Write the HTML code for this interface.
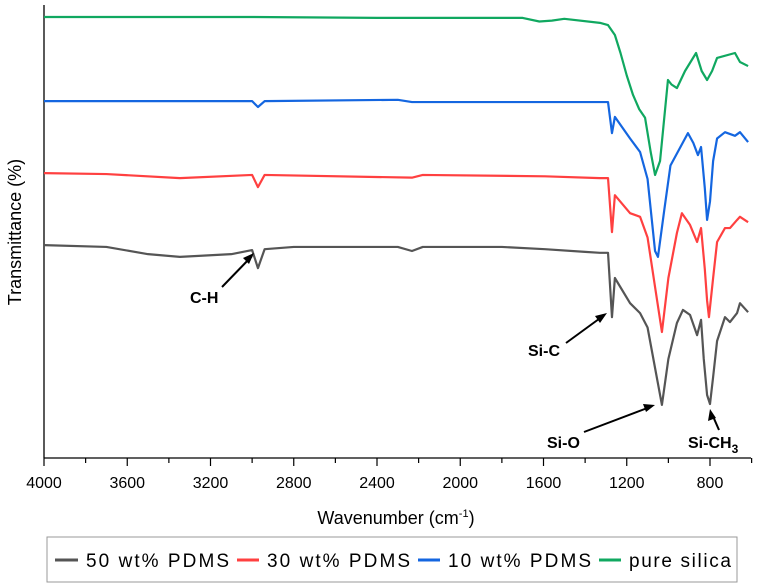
<!DOCTYPE html>
<html><head><meta charset="utf-8"><style>
body{margin:0;background:#fff;}
svg{display:block;font-family:"Liberation Sans",sans-serif;}
</style></head><body>
<svg id="chart" width="765" height="587">
<g id="axes"></g>
<g id="series"></g>
<g id="ann">
<text x="190" y="303" font-size="16" font-weight="bold">C-H</text>
<line x1="222" y1="287" x2="252" y2="256" stroke="#000" stroke-width="2"/>
<polygon points="254,253 243,258 249,264" fill="#000"/>
<text x="528" y="356" font-size="16" font-weight="bold">Si-C</text>
<line x1="566" y1="343" x2="603" y2="316" stroke="#000" stroke-width="2"/>
<polygon points="607,313 595,316 600,323" fill="#000"/>
<text x="547" y="448" font-size="16" font-weight="bold">Si-O</text>
<line x1="584" y1="432" x2="650" y2="407" stroke="#000" stroke-width="2"/>
<polygon points="655,405 643,404 646,412" fill="#000"/>
<text x="688" y="448" font-size="16" font-weight="bold">Si-CH<tspan font-size="12" dy="5">3</tspan></text>
<line x1="719" y1="430" x2="712" y2="414" stroke="#000" stroke-width="2"/>
<polygon points="710,409 708,421 716,418" fill="#000"/>
</g>
<text x="396" y="524" font-size="18" text-anchor="middle">Wavenumber (cm<tspan font-size="11" dy="-7">-1</tspan><tspan dy="7">)</tspan></text>
<text transform="translate(21,232) rotate(-90)" font-size="18" text-anchor="middle">Transmittance (%)</text>
<g>
<rect x="47" y="537" width="690" height="45" fill="#fff" stroke="#999" stroke-width="1"/>
<g><line x1="55" y1="560" x2="78" y2="560" stroke="#555" stroke-width="3"/><text x="86" y="567" font-size="19" textLength="143">50 wt% PDMS</text></g>
<g><line x1="237" y1="560" x2="259" y2="560" stroke="#ff4040" stroke-width="3"/><text x="267" y="567" font-size="19" textLength="143">30 wt% PDMS</text></g>
<g><line x1="418" y1="560" x2="440" y2="560" stroke="#1466e0" stroke-width="3"/><text x="448" y="567" font-size="19" textLength="143">10 wt% PDMS</text></g>
<g><line x1="599" y1="560" x2="621" y2="560" stroke="#10a860" stroke-width="3"/><text x="629" y="567" font-size="19" textLength="102">pure silica</text></g>
</g>
</svg>
<script>
const xTicks=[4000,3600,3200,2800,2400,2000,1600,1200,800];
const wBlack=[4000,3700,3500,3347,3100,3000,2972,2940,2800,2300,2232,2180,1800,1593,1400,1329,1290,1271,1257,1184,1136,1100,1064,1031,1000,959,930,896,862,843,830,814,800,785,766,728,704,670,656,617];
const vBlack=[47.3,46.9,45.3,44.7,45.3,46.2,42.2,46.4,46.9,46.9,46.0,46.9,46.9,46.4,45.8,45.6,45.6,31.3,40,34.4,32.2,29,20,11.8,22,30,32.9,31.8,27.3,30.7,22,14,12,18,26,31.3,30.2,32.2,34.4,32.4];
const wRed=[4000,3700,3347,3000,2972,2940,2232,2180,1593,1329,1290,1271,1257,1184,1136,1100,1064,1031,1000,959,935,896,862,843,825,814,805,785,766,728,704,670,656,617];
const vRed=[63.3,63.1,62.2,62.9,60.2,62.9,62.3,62.9,62.6,62.2,62.2,50.2,58.4,54.4,53.6,49,38,28,40,50,54.4,51.8,48,51.1,42,35,31.3,40,48,51.1,51.1,52.9,53.6,52.4];
const wBlue=[4000,3000,2972,2940,2300,2232,1593,1329,1290,1271,1257,1184,1136,1100,1064,1050,1020,990,906,880,858,843,825,814,800,785,766,728,680,656,617];
const vBlue=[79.3,79.3,78,79.3,79.6,79.1,79.1,79.1,79.1,72.2,75.8,71,68,62,46,44.7,55,65,72.2,70,67.3,69.1,60,52.9,57,66,71,72.4,71.6,72.4,70.2];
const wGreen=[4000,3000,2400,1700,1620,1560,1500,1329,1290,1257,1230,1200,1170,1140,1112,1085,1064,1040,1002,985,959,920,867,840,814,790,766,680,656,617];
const vGreen=[98,98,97.8,97.8,97.0,97.2,97.6,96.7,96.2,94,90,85,80.7,77.5,75.6,68,62.9,66,84,83,82.2,86,90,86,84,86,88.9,90,88,87.1];
const xS=w=>44+(4000-w)*666/3200;
const yS=v=>458-v*4.5;
const NS="http://www.w3.org/2000/svg";
const ax=document.getElementById('axes');
function mk(tag,attrs,parent){const e=document.createElementNS(NS,tag);for(const k in attrs)e.setAttribute(k,attrs[k]);parent.appendChild(e);return e;}
let l=mk('line',{x1:44,y1:458,x2:751,y2:458,stroke:'#000','stroke-width':1.3},ax);


l=mk('line',{x1:44,y1:5,x2:44,y2:458,stroke:'#000','stroke-width':1.3},ax);


for(let w=4000;w>=600;w-=200){
  const major=xTicks.includes(w);
  const t=mk('line',{x1:xS(w),x2:xS(w),y1:458,y2:major?466:463,stroke:'#000','stroke-width':1.2},ax);
  
  
}
xTicks.forEach(w=>{
  const t=mk('text',{x:xS(w),y:488,'font-size':16,'text-anchor':'middle'},ax);
  t.textContent=w;
  
  
});
const sg=document.getElementById('series');
function draw(ws,vs,color,name){
  const p=mk('polyline',{points:ws.map((w,i)=>xS(w)+','+yS(vs[i])).join(' '),fill:'none',stroke:color,'stroke-width':2.2,'stroke-linejoin':'round'},sg);
  
  
}
draw(wGreen,vGreen,'#10a860','series-pure-silica');
draw(wBlue,vBlue,'#1466e0','series-10-pdms');
draw(wRed,vRed,'#ff4040','series-30-pdms');
draw(wBlack,vBlack,'#555','series-50-pdms');
</script>
</body></html>
